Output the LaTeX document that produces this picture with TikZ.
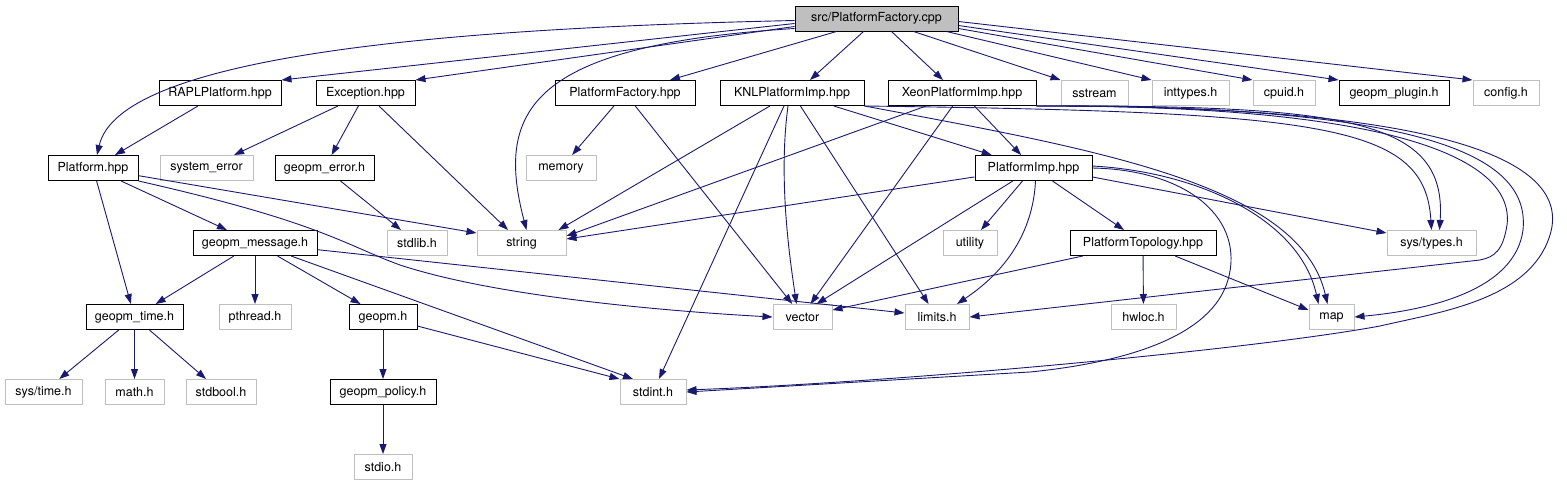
\documentclass[tikz,border=0pt]{standalone}
\usepackage{fontspec}
\setmainfont{TeX Gyre Heros}
\usetikzlibrary{arrows.meta}
\definecolor{edgeblue}{RGB}{25,25,112}
\definecolor{boxgrey}{RGB}{191,191,191}

\begin{document}
\begin{tikzpicture}[x=1pt, y=-1pt, font=\fontsize{12.5}{14}\selectfont,
    hdr/.style={draw=black, line width=1pt, rectangle, minimum height=25pt, inner sep=0pt},
    syshdr/.style={hdr, draw=boxgrey},
    dep/.style={-{Triangle[length=10pt,width=7pt]}, draw=edgeblue, line width=0.9pt}]
    \useasboundingbox (0,0) rectangle (1567,485);

    % Nodes
    \node[hdr, fill=boxgrey, minimum width=163pt] (cpp) at (876.5,18.5) {src/PlatformFactory.cpp};

    \node[hdr, minimum width=122pt] (rapl) at (220,93) {RAPLPlatform.hpp};
    \node[hdr, minimum width=99pt] (exc) at (365.5,93) {Exception.hpp};
    \node[hdr, minimum width=140pt] (pfhpp) at (625,93) {PlatformFactory.hpp};
    \node[hdr, minimum width=144pt] (knl) at (792,93) {KNLPlatformImp.hpp};
    \node[hdr, minimum width=148pt] (xeon) at (962,93) {XeonPlatformImp.hpp};
    \node[syshdr, minimum width=67pt] (sstream) at (1094.5,93) {sstream};
    \node[syshdr, minimum width=77pt] (inttypes) at (1190.5,93) {inttypes.h};
    \node[syshdr, minimum width=62pt] (cpuid) at (1284,93) {cpuid.h};
    \node[hdr, minimum width=110pt] (plugin) at (1394,93) {geopm\_plugin.h};
    \node[syshdr, minimum width=66pt] (config) at (1506,93) {config.h};

    \node[hdr, minimum width=90pt] (platform) at (93,168) {Platform.hpp};
    \node[syshdr, minimum width=93pt] (syserr) at (206.5,168) {system\_error};
    \node[hdr, minimum width=99pt] (geopmerr) at (324.5,168) {geopm\_error.h};
    \node[syshdr, minimum width=70pt] (memory) at (561,168) {memory};
    \node[hdr, minimum width=117pt] (pimp) at (1033.5,168) {PlatformImp.hpp};

    \node[hdr, minimum width=124pt] (msg) at (255,243) {geopm\_message.h};
    \node[syshdr, minimum width=60pt] (stdlib) at (417,243) {stdlib.h};
    \node[syshdr, minimum width=89pt] (string) at (521.5,243) {string};
    \node[syshdr, minimum width=54pt] (utility) at (970,243) {utility};
    \node[hdr, minimum width=146pt] (ptopo) at (1143,243) {PlatformTopology.hpp};
    \node[syshdr, minimum width=89pt] (systypes) at (1431.5,243) {sys/types.h};

    \node[hdr, minimum width=97pt] (time) at (134.5,317) {geopm\_time.h};
    \node[syshdr, minimum width=72pt] (pthread) at (255,317) {pthread.h};
    \node[hdr, minimum width=68pt] (geopmh) at (383,317) {geopm.h};
    \node[syshdr, minimum width=59pt] (vector) at (802.5,317) {vector};
    \node[syshdr, minimum width=64pt] (limits) at (937,317) {limits.h};
    \node[syshdr, minimum width=65pt] (hwloc) at (1143.5,317) {hwloc.h};
    \node[syshdr, minimum width=45pt] (map) at (1331.5,317) {map};

    \node[syshdr, minimum width=77pt] (systime) at (43.5,392) {sys/time.h};
    \node[syshdr, minimum width=59pt] (math) at (134.5,392) {math.h};
    \node[syshdr, minimum width=70pt] (stdbool) at (221,392) {stdbool.h};
    \node[hdr, minimum width=106pt] (policy) at (383,392) {geopm\_policy.h};
    \node[syshdr, minimum width=66pt] (stdint) at (653,392) {stdint.h};

    \node[syshdr, minimum width=58pt] (stdio) at (383,467) {stdio.h};

    % Arrows
    \draw[dep] ([yshift=-2pt]cpp.west) .. controls (450,28) and (120,55) .. ([xshift=4pt]platform.north);
    \draw[dep] ([yshift=-5pt]cpp.west) -- (rapl.north east);
    \draw[dep] ([yshift=-8pt]cpp.west) -- (exc.north east);
    \draw[dep] ([yshift=-10pt]cpp.west) .. controls (530,45) and (495,110) .. ([xshift=5pt]string.north);
    \draw[dep] ([xshift=-40pt]cpp.south) -- ([xshift=45pt]pfhpp.north);
    \draw[dep] ([xshift=-13pt]cpp.south) -- ([xshift=18pt]knl.north);
    \draw[dep] ([xshift=15pt]cpp.south) -- ([xshift=-19pt]xeon.north);
    \draw[dep] ([xshift=37pt]cpp.south) -- (sstream.north west);
    \draw[dep] ([xshift=70pt]cpp.south) -- (inttypes.north west);
    \draw[dep] ([yshift=-10pt]cpp.east) -- (cpuid.north west);
    \draw[dep] ([yshift=-7pt]cpp.east) -- (plugin.north west);
    \draw[dep] ([yshift=-3pt]cpp.east) -- (config.north west);

    \draw[dep] (rapl) -- (platform);
    \draw[dep] (exc) -- (syserr);
    \draw[dep] (exc) -- (geopmerr);
    \draw[dep] (exc) -- (string);
    \draw[dep] (geopmerr) -- (stdlib);
    \draw[dep] (pfhpp) -- (memory);
    \draw[dep] (pfhpp) -- (vector);

    \draw[dep] (knl) -- ([xshift=-8pt]string.north east);
    \draw[dep] ([xshift=-4pt]knl.south) .. controls (778,180) and (790,260) .. ([xshift=-6pt]vector.north);
    \draw[dep] ([xshift=-8pt]knl.south) -- ([xshift=6pt]stdint.north);
    \draw[dep] (knl) -- (limits);
    \draw[dep] (knl) -- (pimp);
    \draw[dep] (knl.south east) .. controls (1100,150) and (1300,185) .. ([xshift=-4pt]map.north);
    \draw[dep] (knl.south east) .. controls (1330,112) and (1425,125) .. (systypes.north);

    \draw[dep] (xeon) -- ([yshift=7pt]string.east);
    \draw[dep] (xeon) -- ([xshift=8pt]vector.north);
    \draw[dep] (xeon) -- (pimp);
    \draw[dep] (xeon.south east) .. controls (1350,105) and (1447,120) .. ([xshift=8pt]systypes.north);
    \draw[dep] (xeon.south east) .. controls (1400,105) and (1515,160) .. (1507,225)
        .. controls (1503,250) and (1495,257) .. (1480,260) -- (limits.east);
    \draw[dep] (xeon.south east) .. controls (1440,105) and (1530,160) .. (1523,230)
        .. controls (1515,290) and (1430,310) .. (map.east);
    \draw[dep] (xeon.south east) .. controls (1480,105) and (1570,170) .. (1550,235)
        .. controls (1530,300) and (1440,312) .. (1380,326)
        .. controls (1250,350) and (900,382) .. ([yshift=2pt]stdint.east);

    \draw[dep] (pimp) -- ([yshift=4pt]string.east);
    \draw[dep] (pimp) -- (utility);
    \draw[dep] (pimp) -- ([xshift=14pt]vector.north);
    \draw[dep] ([xshift=2pt]pimp.south) .. controls (1032,250) and (985,285) .. ([xshift=20pt]limits.north);
    \draw[dep] (pimp) -- (ptopo);
    \draw[dep] ([yshift=-9pt]pimp.east) -- ([yshift=10pt]systypes.west);
    \draw[dep] ([yshift=2pt]pimp.east) .. controls (1200,172) and (1300,220) .. ([xshift=-13pt]map.north);
    \draw[dep] (pimp.east) .. controls (1190,170) and (1245,220) .. (1228,280)
        .. controls (1212,335) and (1130,362) .. (1030,372) -- (stdint.east);

    \draw[dep] (ptopo) -- ([yshift=7pt]vector.east);
    \draw[dep] (ptopo) -- (hwloc);
    \draw[dep] (ptopo) -- ([yshift=7pt]map.west);

    \draw[dep] (platform) -- (msg);
    \draw[dep] (platform) -- (time);
    \draw[dep] (platform) -- ([yshift=10pt]string.west);
    \draw[dep] (platform.south east) .. controls (320,222) and (345,245) .. (400,265)
        .. controls (500,298) and (680,312) .. (vector.west);

    \draw[dep] (msg) -- (time);
    \draw[dep] (msg) -- (pthread);
    \draw[dep] (msg) -- (geopmh);
    \draw[dep] (msg) -- ([xshift=-20pt]stdint.north);
    \draw[dep] (msg) -- ([yshift=4pt]limits.west);

    \draw[dep] (time) -- (systime);
    \draw[dep] (time) -- (math);
    \draw[dep] (time) -- (stdbool);
    \draw[dep] (geopmh) -- (policy);
    \draw[dep] (geopmh) -- (stdint.north west);
    \draw[dep] (policy) -- (stdio);
\end{tikzpicture}
\end{document}
